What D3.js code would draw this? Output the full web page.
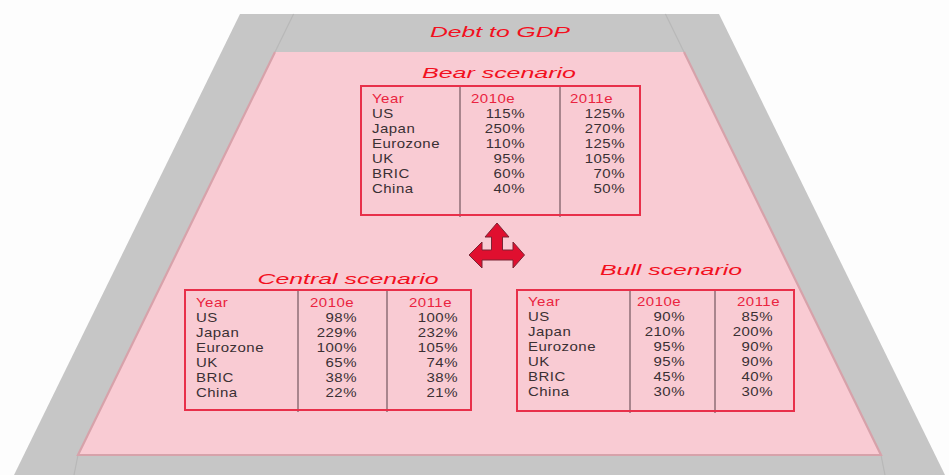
<!DOCTYPE html>
<html>
<head>
<meta charset="utf-8">
<script src="https://cdn.jsdelivr.net/npm/d3@7"></script>
<style>
  html, body { margin: 0; padding: 0; background: #fdfdfd; }
  svg { display: block; }
  text { font-family: "Liberation Sans", Arial, Helvetica, sans-serif; }
</style>
</head>
<body>
<svg id="chart" width="949" height="475"></svg>
<script>
// ---------------- DATA ----------------
const chartTitle = "Debt to GDP";
const headerLabel = "Year";
const years = ["2010e", "2011e"];
const countries = ["US", "Japan", "Eurozone", "UK", "BRIC", "China"];

const scenarioNames = ["Bear scenario", "Central scenario", "Bull scenario"];
const bear2010 = [115, 250, 110, 95, 60, 40];
const bear2011 = [125, 270, 125, 105, 70, 50];
const central2010 = [98, 229, 100, 65, 38, 22];
const central2011 = [100, 232, 105, 74, 38, 21];
const bull2010 = [90, 210, 95, 95, 45, 30];
const bull2011 = [85, 200, 90, 90, 40, 30];

// ---------------- LAYOUT ----------------
const W = 949, H = 475;
const colors = {
  bg: "#fdfdfd", frame: "#c6c6c6", frameLine: "#b8b8b8",
  pink: "#f9cbd3", pinkEdge: "#d7a2aa",
  title: "#f2101e", header: "#ea2440", text: "#3a3034",
  border: "#e8304a", divider: "#8e6e76",
  arrow: "#e00f2f", arrowStroke: "#7a2535"
};
const frame = { top: 14, topL: 240, topR: 719, bottom: 475, botL: 14, botR: 945 };
const pinkArea = { top: 52, topL: 275, topR: 684, bottom: 455, botL: 78, botR: 881 };

const tables = [
  { name: scenarioNames[0], v: [bear2010, bear2011],
    x0: 361, x1: 640, y0: 86, y1: 215, cols: [460, 560],
    titleX: 499, titleY: 73, titleW: 154, rowTop: 98,
    headX: [471, 570], valEnd: [525, 625] },
  { name: scenarioNames[1], v: [central2010, central2011],
    x0: 185, x1: 471, y0: 290, y1: 410, cols: [298, 387],
    titleX: 348, titleY: 278.5, titleW: 181, rowTop: 302,
    headX: [310, 409], valEnd: [357, 458] },
  { name: scenarioNames[2], v: [bull2010, bull2011],
    x0: 517, x1: 794, y0: 290, y1: 411, cols: [630, 715],
    titleX: 671, titleY: 270, titleW: 142, rowTop: 301,
    headX: [637, 737], valEnd: [685, 773] }
];
const rowGap = 15;
const textScaleX = 1.2;

const svg = d3.select("#chart");
svg.append("rect").attr("width", W).attr("height", H).attr("fill", colors.bg);

// Frame (grey trapezoid)
svg.append("polygon")
  .attr("points", [[frame.topL, frame.top], [frame.topR, frame.top], [frame.botR, frame.bottom], [frame.botL, frame.bottom]].join(" "))
  .attr("fill", colors.frame);

// faint bevel lines: pink edges extended to the frame's top, and down to bottom
const slopeL = (pinkArea.botL - pinkArea.topL) / (pinkArea.bottom - pinkArea.top);
const slopeR = (pinkArea.botR - pinkArea.topR) / (pinkArea.bottom - pinkArea.top);
const bevel = svg.append("g").attr("stroke", colors.frameLine).attr("stroke-width", 1.2).attr("fill", "none");
bevel.append("line").attr("x1", pinkArea.topL).attr("y1", pinkArea.top)
  .attr("x2", pinkArea.topL - slopeL * (pinkArea.top - frame.top)).attr("y2", frame.top);
bevel.append("line").attr("x1", pinkArea.topR).attr("y1", pinkArea.top)
  .attr("x2", pinkArea.topR - slopeR * (pinkArea.top - frame.top)).attr("y2", frame.top);
bevel.append("line").attr("x1", pinkArea.botL).attr("y1", pinkArea.bottom)
  .attr("x2", pinkArea.botL - 4).attr("y2", frame.bottom);
bevel.append("line").attr("x1", pinkArea.botR).attr("y1", pinkArea.bottom)
  .attr("x2", pinkArea.botR + 4).attr("y2", frame.bottom);

// Pink area
svg.append("polygon")
  .attr("points", [[pinkArea.topL, pinkArea.top], [pinkArea.topR, pinkArea.top], [pinkArea.botR, pinkArea.bottom], [pinkArea.botL, pinkArea.bottom]].join(" "))
  .attr("fill", colors.pink);
svg.append("polyline")
  .attr("points", [[pinkArea.topL, pinkArea.top], [pinkArea.botL, pinkArea.bottom], [pinkArea.botR, pinkArea.bottom], [pinkArea.topR, pinkArea.top]].join(" "))
  .attr("fill", "none").attr("stroke", colors.pinkEdge).attr("stroke-width", 2.2);

// Title
svg.append("text")
  .attr("x", 500).attr("y", 31.5).attr("dy", "0.36em")
  .attr("text-anchor", "middle")
  .attr("font-size", 15).attr("font-style", "italic")
  .attr("textLength", 140).attr("lengthAdjust", "spacingAndGlyphs")
  .attr("fill", colors.title)
  .text(chartTitle);

// Tables
const rows = [headerLabel].concat(countries);
tables.forEach(t => {
  const g = svg.append("g");
  const y = d3.scalePoint().domain(rows).range([t.rowTop, t.rowTop + rowGap * (rows.length - 1)]);

  g.append("text")
    .attr("x", t.titleX).attr("y", t.titleY).attr("dy", "0.36em")
    .attr("text-anchor", "middle").attr("font-size", 15).attr("font-style", "italic")
    .attr("textLength", t.titleW).attr("lengthAdjust", "spacingAndGlyphs")
    .attr("fill", colors.title).text(t.name);

  // dividers
  t.cols.forEach(cx => {
    g.append("line").attr("x1", cx).attr("x2", cx)
      .attr("y1", t.y0).attr("y2", t.y1 + 2)
      .attr("stroke", colors.divider).attr("stroke-width", 1.5);
  });
  // border
  g.append("rect").attr("x", t.x0).attr("y", t.y0)
    .attr("width", t.x1 - t.x0).attr("height", t.y1 - t.y0)
    .attr("fill", "none").attr("stroke", colors.border).attr("stroke-width", 2);

  const txt = (x, yy, s, fill, anchor) => g.append("text")
    .attr("transform", `translate(${x},${yy}) scale(${textScaleX},1)`)
    .attr("dy", "0.36em").attr("text-anchor", anchor)
    .attr("font-size", 12.5).attr("letter-spacing", 0.4)
    .attr("fill", fill).text(s);

  // header row
  txt(t.x0 + 11, y(headerLabel), headerLabel, colors.header, "start");
  years.forEach((yr, j) => txt(t.headX[j], y(headerLabel), yr, colors.header, "start"));
  // body rows
  countries.forEach((c, i) => {
    txt(t.x0 + 11, y(c), c, colors.text, "start");
    years.forEach((yr, j) => txt(t.valEnd[j], y(c), t.v[j][i] + "%", colors.text, "end"));
  });
});

// Three-way arrow
const ac = { x: 497, y: 255 };
const arrowPts = [
  [0, -32], [12, -18], [5.5, -18], [5.5, -5], [16, -5], [16, -13], [27.5, 0], [16, 13], [16, 5],
  [-15, 5], [-15, 13], [-28, 0], [-15, -13], [-15, -5], [-5.5, -5], [-5.5, -18], [-12, -18]
];
svg.append("polygon")
  .attr("points", arrowPts.map(p => [ac.x + p[0], ac.y + p[1]]).join(" "))
  .attr("fill", colors.arrow).attr("stroke", colors.arrowStroke).attr("stroke-width", 1)
  .attr("stroke-linejoin", "miter");
</script>
</body>
</html>
